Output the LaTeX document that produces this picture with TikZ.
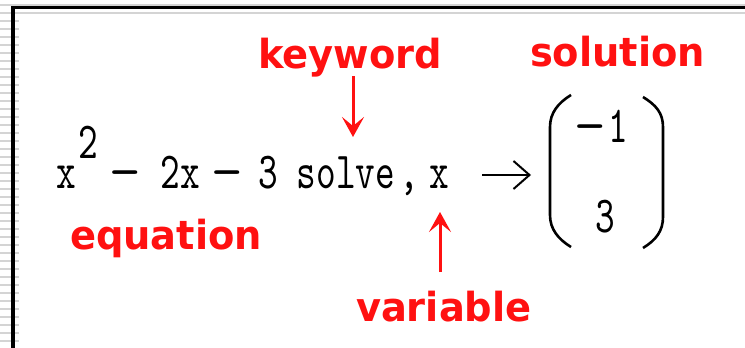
\documentclass[tikz,border=0pt]{standalone}
\usepackage{fontspec}
\usetikzlibrary{arrows.meta}
\newfontfamily\mcfont{lmmono10-regular}[Extension=.otf, FakeStretch=0.72]
\newfontfamily\mcminusfont{lmmono10-regular}[Extension=.otf, FakeStretch=1.08]
\newfontfamily\lblfont{DejaVu Sans}[FakeStretch=0.96]
\definecolor{lblred}{RGB}{255,17,17}
\definecolor{edgegray}{RGB}{212,212,212}
\begin{document}
\begin{tikzpicture}[x=1pt, y=-1pt,
  every node/.style={inner sep=0pt, outer sep=0pt},
  mathtxt/.style={font=\mcfont\fontsize{52}{60}\selectfont, anchor=base},
  minustxt/.style={font=\mcminusfont\fontsize{52}{60}\selectfont, anchor=base},
  lbl/.style={font=\lblfont\bfseries\fontsize{40}{48}\selectfont, text=lblred, anchor=base west},
  redarr/.style={draw=lblred, line width=3pt, -{Stealth[length=20pt,width=22pt,inset=9pt,fill=lblred]}},
  resarr/.style={draw=black, line width=2pt, -{Straight Barb[length=16pt,width=28pt]}},
  paren/.style={draw=black, line width=2.6pt}]
\useasboundingbox (0,0) rectangle (745,348);
\fill[white] (0,0) rectangle (745,348);
% window edge
\draw[edgegray, line width=1.5pt] (0,5) -- (745,5);
\draw[edgegray, line width=2pt] (0,13) -- (745,13);
\foreach \k [evaluate=\k as \yy using 13+8*\k] in {1,...,41}
  \draw[edgegray, line width=2pt] (0,\yy) -- (19,\yy);
\draw[black, line width=3.5pt] (13,348) -- (13,7.5) -- (745,7.5);
% expression
\node[mathtxt] (xa) at (66,188) {x};
\node[mathtxt] (sq) at (88,158) {2};
\node[minustxt] (ma) at (125,188) {−};
\node[mathtxt] (twox) at (180,188) {2x};
\node[minustxt] (mb) at (227,188) {−};
\node[mathtxt] (three) at (268,188) {3};
\node[mathtxt] (solve) at (346,188) {solve};
\node[mathtxt] (comma) at (409,188) {,};
\node[mathtxt] (xv) at (439,188) {x};
% result arrow
\coordinate (ra) at (482,175);
\coordinate (rb) at (531,175);
\draw[resarr] (ra) -- (rb);
% result vector
\draw[paren] (571,95) .. controls (558,103) and (550,113) .. (550,127) -- (550,215) .. controls (550,229) and (558,239) .. (571,247);
\draw[paren] (643,97) .. controls (656,105) and (663,113) .. (663,127) -- (663,217) .. controls (663,231) and (656,240) .. (643,248);
\node[minustxt] (mneg) at (590,142) {−};
\node[mathtxt] (one) at (618,142) {1};
\node[mathtxt] (rthree) at (605,232) {3};
% labels
\node[lbl] (kw) at (258,68) {keyword};
\node[lbl] (sol) at (530,66) {solution};
\node[lbl] (eq) at (70,249) {equation};
\node[lbl] (var) at (356,321) {variable};
\coordinate (kwa) at (353,76);
\coordinate (kwb) at (353,137);
\draw[redarr] (kwa) -- (kwb);
\coordinate (vra) at (440,272);
\coordinate (vrb) at (440,212);
\draw[redarr] (vra) -- (vrb);
\end{tikzpicture}
\end{document}
